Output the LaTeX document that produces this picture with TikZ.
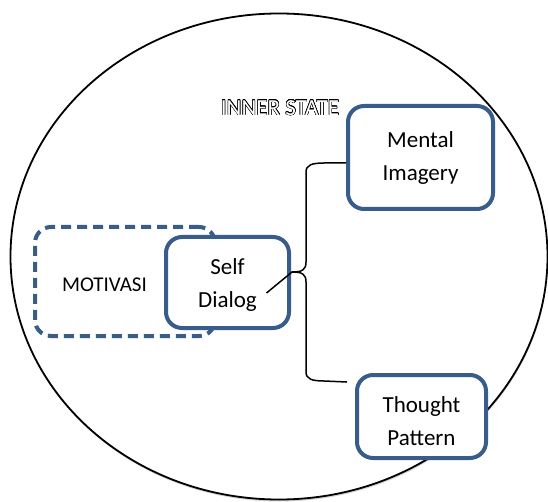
\documentclass[tikz,border=0pt]{standalone}
\usepackage{fontspec}
\setmainfont{Carlito}
\usepackage{contour}
\usetikzlibrary{shapes.geometric,shadows}
\definecolor{boxblue}{RGB}{56,93,138}
\contourlength{0.45pt}

\begin{document}
\begin{tikzpicture}[x=1pt,y=-1pt]
\tikzstyle{box}=[rectangle,rounded corners=16pt,draw=boxblue,line width=4pt,fill=white,align=center,font=\fontsize{23}{33}\selectfont]
\tikzstyle{dashbox}=[rectangle,rounded corners=16pt,draw=boxblue,line width=4pt,dash pattern=on 10pt off 6pt]
\tikzstyle{brace}=[draw,line width=1.5pt,-]
\useasboundingbox (0,0) rectangle (548,502);
\node[ellipse,draw,line width=1.8pt,fill=white,minimum width=537,minimum height=486,
  drop shadow={shadow xshift=0.5pt,shadow yshift=-2pt,opacity=0.35}] (inner) at (279,256.5) {};
\node[font=\fontsize{23}{26}\selectfont,text=white] (innerlbl) at (280,108) {\contour{black}{INNER STATE}};
\node[dashbox,minimum width=180,minimum height=109] (motiv) at (125,281.5) {};
\node[font=\fontsize{21}{24}\selectfont] (motivlbl) at (104.5,285) {MOTIVASI};
\node[box,minimum width=123,minimum height=91] (self) at (227.5,282.5) {\raisebox{-2pt}[\height][\depth]{Self}\\\raisebox{-2pt}[\height][\depth]{Dialog}};
\node[box,minimum width=145,minimum height=103] (mental) at (420.5,157.5) {Mental\\Imagery};
\node[box,minimum width=129,minimum height=83] (thought) at (421.5,416.5) {\raisebox{-5pt}[\height][\depth]{Thought}\\\raisebox{-5pt}[\height][\depth]{Pattern}};
\coordinate (tip) at (292,272);
\coordinate (thoughtend) at (347,382);
\path[brace] ([xshift=39pt,yshift=-10.5pt]self.center) -- (tip)
  .. controls (302,272) and (306,270) .. (306,262) -- (306,172)
  .. controls (306,165) and (312,163) .. (324,163) -- ([yshift=-5.5pt]mental.west);
\path[brace] (tip)
  .. controls (302,272) and (306,274) .. (306,282) -- (306,372)
  .. controls (306,379) and (312,381) .. (324,381) -- (thoughtend);
\end{tikzpicture}
\end{document}
